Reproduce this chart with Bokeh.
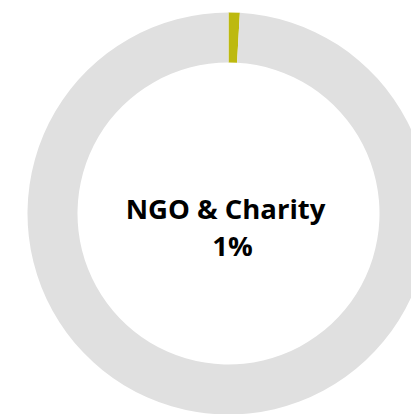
import numpy as np
from bokeh.plotting import figure
from bokeh.models import Range1d, ColumnDataSource
from bokeh.core.properties import value
from bokeh.embed import file_html
from bokeh.resources import INLINE

# Data
categories = ["NGO & Charity", "Other"]
shares = [0.9, 99.1]
colors = ["#BDB90F", "#E0E0E0"]
label_title = "NGO & Charity"
label_value = "1%"

W, H = 411, 414
cx, cy = 228, H - 213
r_out, r_in = 201, 151

fr = np.array(shares) / sum(shares)
cum = np.concatenate([[0], np.cumsum(fr)])
start = np.pi / 2 - cum[:-1] * 2 * np.pi
end = np.pi / 2 - cum[1:] * 2 * np.pi

src = ColumnDataSource(dict(cat=categories, start=start, end=end, color=colors,
                            x=[cx] * 2, y=[cy] * 2))

p = figure(width=W, height=H, output_backend="svg", toolbar_location=None,
           x_range=Range1d(0, W), y_range=Range1d(0, H), min_border=0)
p.axis.visible = False
p.grid.visible = False
p.outline_line_color = None
p.background_fill_color = "white"
p.border_fill_color = "white"

p.annular_wedge(x="x", y="y", inner_radius=r_in, outer_radius=r_out,
                start_angle="start", end_angle="end", direction="clock",
                fill_color="color", line_color=None, source=src)

p.text(x=[225, 232], y=[H - 208, H - 245], text=[label_title, label_value],
       text_font=value("Open Sans"), text_font_style="bold", text_font_size="27.5px",
       text_align="center", text_baseline="alphabetic", text_color="#000000")

open("out.html", "w").write(file_html(p, INLINE))
